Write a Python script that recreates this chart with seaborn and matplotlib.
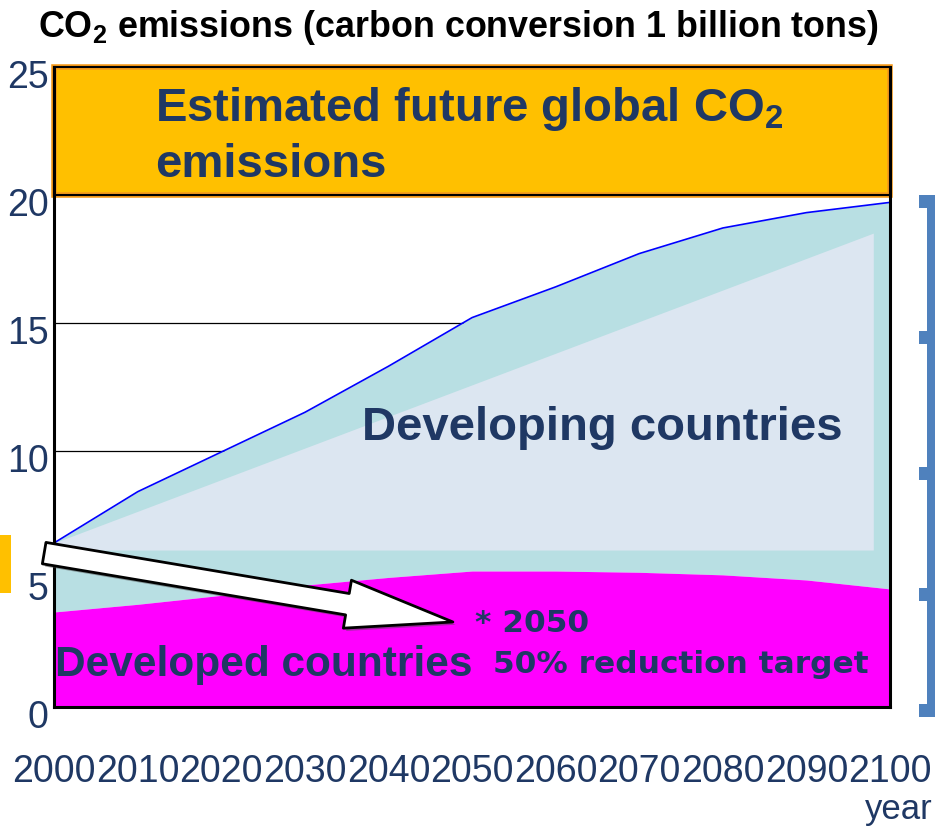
import matplotlib
matplotlib.use('Agg')
import matplotlib.pyplot as plt
import matplotlib.patches as mpatches
import matplotlib.patheffects as pe
from matplotlib.transforms import ScaledTranslation
import pandas as pd
import seaborn as sns

# values (billion tons, carbon conversion)
years = [2000, 2010, 2020, 2030, 2040, 2050, 2060, 2070, 2080, 2090, 2100]
total_emissions = [6.4, 8.4, 9.95, 11.5, 13.3, 15.2, 16.4, 17.7, 18.7, 19.3, 19.7]
developed_emissions = [3.7, 4.0, 4.35, 4.75, 5.05, 5.3, 5.3, 5.25, 5.15, 4.95, 4.6]

# lighter inner band of the developing-countries area
band_years = [2000, 2098]
band_top = [6.4, 18.5]
band_bottom = 6.12

y_ticks = [0, 5, 10, 15, 20, 25]
grid_levels = [10, 15]
box_low, box_high = 20, 25

NAVY = '#1f3864'
W, H = 947, 831

df = pd.DataFrame({'year': years, 'total': total_emissions,
                   'developed': developed_emissions})

sns.set_theme(style='white')
plt.rcParams['font.family'] = ['Liberation Sans', 'DejaVu Sans']
plt.rcParams['mathtext.fontset'] = 'custom'
plt.rcParams['mathtext.rm'] = 'Liberation Sans'
plt.rcParams['mathtext.bf'] = 'Liberation Sans:bold'

fig = plt.figure(figsize=(W / 100, H / 100), dpi=100)
ax = fig.add_axes([54.2 / W, 1 - 706.7 / H, (890 - 54.2) / W, (706.7 - 66.7) / H])

for lvl in grid_levels:
    ax.axhline(lvl, color='black', lw=0.9, zorder=0.5)

ax.fill_between(df.year, df.developed, df.total, color='#b8dfe3', lw=0, zorder=1)
ax.fill_between(band_years, band_bottom, band_top, color='#dce6f1', lw=0, zorder=1.5)
ax.fill_between(df.year, 0, df.developed, color='#ff00ff', lw=0, zorder=2)
sns.lineplot(data=df, x='year', y='total', color='#0000ff', lw=1.2, ax=ax, zorder=3)

# orange header box
ax.axhspan(box_low, box_high, facecolor='#ffc000', edgecolor='#f59a1b', lw=4,
           zorder=2, clip_on=False)
ax.axhspan(box_low, box_high, fill=False, edgecolor='black', lw=1.5, zorder=2.1,
           clip_on=False)

ax.set_xlim(years[0], years[-1])
ax.set_ylim(y_ticks[0], y_ticks[-1])
ax.set_xlabel('')
ax.set_ylabel('')
ax.set_xticks(years)
ax.set_xticklabels([str(y) for y in years])
ax.set_yticks(y_ticks)
ax.set_yticklabels([str(v) for v in y_ticks])
ax.tick_params(axis='x', bottom=True, direction='in', length=10, width=1.2,
               color='black', pad=34, labelsize=27, labelcolor=NAVY)
ax.tick_params(axis='y', left=True, length=0, pad=4, labelsize=27, labelcolor=NAVY)
for lbl in ax.get_yticklabels():
    lbl.set_transform(lbl.get_transform() + ScaledTranslation(0, -0.07, fig.dpi_scale_trans))

for side in ['left', 'bottom', 'right']:
    ax.spines[side].set_visible(True)
    ax.spines[side].set_color('black')
    ax.spines[side].set_linewidth(2.2)
    ax.spines[side].set_zorder(4)
ax.spines['top'].set_visible(False)

# labels inside the chart
bold = dict(fontweight='bold', color=NAVY, va='baseline', ha='left', zorder=7)
ax.text(2012.1, 22.88, r'Estimated future global CO$_\mathbf{2}$', fontsize=34, **bold)
ax.text(2012.1, 20.69, 'emissions', fontsize=34, **bold)
ax.text(2036.8, 10.42, 'Developing countries', fontsize=34, **bold)
ax.text(2000.1, 1.2, 'Developed countries', fontsize=30.5, **bold)
ax.text(2050.4, 2.9, '* 2050', fontsize=22.5, family='DejaVu Sans', **bold)
ax.text(2052.5, 1.3, '50% reduction target', fontsize=22.5, family='DejaVu Sans', **bold)

ann = ax.annotate('', xy=(2047.7, 3.31), xytext=(1998.8, 6.0), annotation_clip=False,
                  arrowprops=dict(arrowstyle='simple,head_length=3.85,head_width=1.75,tail_width=0.78',
                                  fc='white', ec='black', lw=2, mutation_scale=20,
                                  shrinkA=0, shrinkB=0))
ann.arrow_patch.set_path_effects([pe.withSimplePatchShadow(offset=(2, -2), alpha=0.5)])
ann.set_zorder(6)

fig.text(38 / W, 1 - 37 / H, r'CO$_\mathbf{2}$ emissions (carbon conversion 1 billion tons)',
         fontsize=25.8, fontweight='bold', color='black', va='baseline')
fig.text(933 / W, 1 - 819 / H, 'year', fontsize=25, color=NAVY, ha='right', va='baseline')


def px_rect(x0, y0, x1, y1, color):
    fig.add_artist(mpatches.Rectangle((x0 / W, 1 - y1 / H), (x1 - x0) / W, (y1 - y0) / H,
                                      transform=fig.transFigure, color=color, lw=0))


# cut-off orange tag at the left edge
px_rect(0, 535, 11, 593, '#ffc000')

# bracket on the right
BR = '#4f81bd'
px_rect(927, 195, 935, 717, BR)
px_rect(919, 195, 935, 208, BR)
px_rect(919, 704, 935, 717, BR)
for y0 in [331, 467, 588]:
    px_rect(919, y0, 931, y0 + 13, BR)

fig.savefig('out.png', dpi=100)
